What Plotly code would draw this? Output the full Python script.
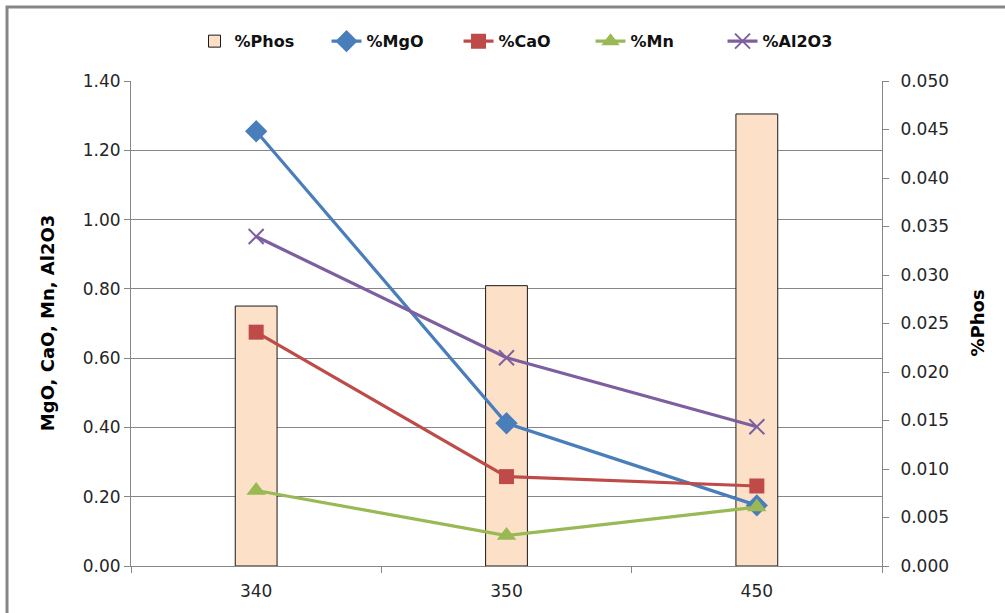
import plotly.graph_objects as go

categories = ["340", "350", "450"]
phos = [0.0268, 0.0289, 0.0466]
mgo = [1.255, 0.412, 0.175]
cao = [0.675, 0.258, 0.231]
mn = [0.218, 0.088, 0.17]
al2o3 = [0.951, 0.601, 0.402]

left_ticks = [0, 0.2, 0.4, 0.6, 0.8, 1.0, 1.2, 1.4]
right_ticks = [0, 0.005, 0.01, 0.015, 0.02, 0.025, 0.03, 0.035, 0.04, 0.045, 0.05]

FONT = "DejaVu Sans"
GRID = "#868686"
TICKCOL = "#262626"

fig = go.Figure()

fig.add_trace(go.Bar(
    x=categories, y=phos, name="%Phos", yaxis="y",
    marker=dict(color="#FCE0C8", line=dict(color="#1a1a1a", width=1)),
))

line_series = [
    ("%MgO", mgo, "#4A7EBB", "diamond", 15, 2),
    ("%CaO", cao, "#BE4B48", "square", 15, 0),
    ("%Mn", mn, "#98B954", "triangle-up", 17, 0),
    ("%Al2O3", al2o3, "#7D5FA0", "x-thin-open", 15, 2),
]
for name, vals, col, sym, size, lw in line_series:
    fig.add_trace(go.Scatter(
        x=categories, y=vals, name=name, yaxis="y2", mode="lines+markers",
        line=dict(color=col, width=3.2),
        marker=dict(symbol=sym, size=size, color=col, line=dict(color=col, width=lw)),
    ))

fig.update_layout(
    width=1005, height=613,
    margin=dict(l=131, r=123, t=81, b=47),
    paper_bgcolor="white", plot_bgcolor="white",
    font=dict(family=FONT, size=17, color=TICKCOL),
    bargap=0.833,
    showlegend=True,
    legend=dict(orientation="h", x=0.524, xanchor="center", y=1.082, yanchor="middle",
                font=dict(family=FONT, size=16, color="#111111", weight="bold"),
                traceorder="normal", entrywidth=87, entrywidthmode="pixels"),
    xaxis=dict(type="category", showgrid=False, showline=True, linecolor=GRID, linewidth=1,
               ticks="outside", tickson="boundaries", ticklen=6, tickcolor=GRID,
               ticklabelstandoff=10,
               tickfont=dict(family=FONT, size=17, color=TICKCOL)),
    yaxis=dict(side="right", range=[0, 0.05], tickvals=right_ticks,
               ticktext=[f"{v:.3f}" for v in right_ticks],
               showgrid=False, showline=True, linecolor=GRID, linewidth=1,
               ticks="outside", ticklen=6, tickcolor=GRID, zeroline=False,
               ticklabelstandoff=8,
               tickfont=dict(family=FONT, size=17, color=TICKCOL)),
    yaxis2=dict(side="left", overlaying="y", range=[0, 1.4], tickvals=left_ticks,
                ticktext=[f"{v:.2f}" for v in left_ticks],
                showgrid=True, gridcolor=GRID, gridwidth=1,
                showline=True, linecolor=GRID, linewidth=1,
                ticks="outside", ticklen=6, tickcolor=GRID, zeroline=False,
                tickfont=dict(family=FONT, size=17, color=TICKCOL)),
    annotations=[
        dict(text="MgO, CaO, Mn, Al2O3", xref="paper", yref="paper", x=-0.111, y=0.5,
             xanchor="center", yanchor="middle", textangle=-90, showarrow=False,
             font=dict(family=FONT, size=18, color="#000000", weight="bold")),
        dict(text="%Phos", xref="paper", yref="paper", x=1.1265, y=0.5,
             xanchor="center", yanchor="middle", textangle=-90, showarrow=False,
             font=dict(family=FONT, size=18, color="#000000", weight="bold")),
    ],
    shapes=[
        dict(type="rect", xref="paper", yref="paper",
             x0=-0.1651, x1=1.18, y0=-0.12, y1=1.1526,
             line=dict(color="#868686", width=3), layer="below"),
    ],
)

fig.write_html("out.html")
